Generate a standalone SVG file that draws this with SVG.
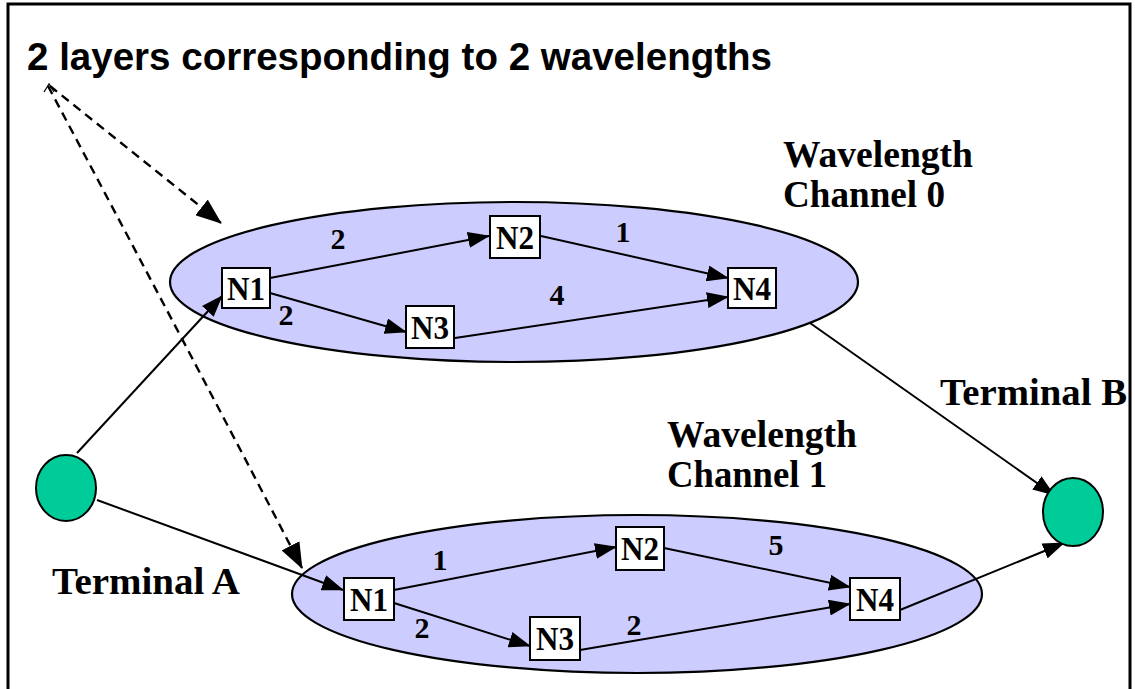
<svg xmlns="http://www.w3.org/2000/svg" width="1135" height="689" viewBox="0 0 1135 689">
<defs>
<marker id="ah" markerUnits="userSpaceOnUse" markerWidth="22" markerHeight="16" refX="21" refY="8" orient="auto">
<path d="M0,0 L22,8 L0,16 z" fill="#000"/>
</marker>
<marker id="ahd" markerUnits="userSpaceOnUse" markerWidth="26" markerHeight="20" refX="25" refY="10" orient="auto">
<path d="M0,0 L26,10 L0,20 z" fill="#000"/>
</marker>
<style>
.layer{fill:#CCCCFF;stroke:#000;stroke-width:2.2}
.term{fill:#00CC99;stroke:#000;stroke-width:2}
.box{fill:#fff;stroke:#000;stroke-width:2}
.nl{font-family:"Liberation Serif","Times New Roman",serif;font-weight:bold;font-size:33px;text-anchor:middle}
.w{font-family:"Liberation Serif","Times New Roman",serif;font-weight:bold;font-size:30px;text-anchor:middle}
.lbl{font-family:"Liberation Serif","Times New Roman",serif;font-weight:bold;font-size:38px}
.title{font-family:"Liberation Sans",Arial,sans-serif;font-weight:bold;font-size:39px}
.e{stroke:#000;stroke-width:2;fill:none;marker-end:url(#ah)}
.d{stroke:#000;stroke-width:2.4;fill:none;stroke-dasharray:9,6;marker-end:url(#ahd)}
</style>
</defs>
<rect x="0" y="0" width="1135" height="689" fill="#fff"/>
<rect x="8" y="4" width="1122" height="720" fill="none" stroke="#000" stroke-width="3"/>

<text class="title" x="27" y="70" textLength="745" lengthAdjust="spacingAndGlyphs">2 layers corresponding to 2 wavelengths</text>

<g id="layer0">
<ellipse class="layer" cx="514" cy="282" rx="344" ry="80"/>
</g>
<g id="layer1">
<ellipse class="layer" cx="637" cy="594" rx="345" ry="79"/>
</g>

<g id="label-ch0">
<text class="lbl" x="783" y="167" textLength="190" lengthAdjust="spacingAndGlyphs">Wavelength</text>
<text class="lbl" x="783" y="207" textLength="162" lengthAdjust="spacingAndGlyphs">Channel 0</text>
</g>
<g id="label-ch1">
<text class="lbl" x="667" y="447" textLength="190" lengthAdjust="spacingAndGlyphs">Wavelength</text>
<text class="lbl" x="667" y="487" textLength="160" lengthAdjust="spacingAndGlyphs">Channel 1</text>
</g>

<g id="connectors">
<line class="e" x1="77" y1="453" x2="222" y2="296"/>
<line class="e" x1="97" y1="500" x2="343" y2="590"/>
<line class="e" x1="810" y1="323" x2="1054" y2="495"/>
<line class="e" x1="900" y1="610" x2="1064" y2="543"/>
<line class="e" x1="270" y1="278" x2="489" y2="236"/>
<line class="e" x1="270" y1="293" x2="406" y2="332"/>
<line class="e" x1="541" y1="236" x2="728" y2="278"/>
<line class="e" x1="455" y1="338" x2="728" y2="297"/>
<line class="e" x1="394" y1="590" x2="616" y2="547"/>
<line class="e" x1="394" y1="603" x2="530" y2="646"/>
<line class="e" x1="664" y1="548" x2="850" y2="587"/>
<line class="e" x1="580" y1="650" x2="850" y2="604"/>
<line class="d" x1="50" y1="86" x2="221" y2="223"/>
<path class="d" d="M48,86 Q215,400 302,568"/>
<path d="M44,92 L49,84 L54,92" fill="none" stroke="#000" stroke-width="1.2"/>
</g>

<g id="termA">
<ellipse class="term" cx="66" cy="488" rx="30" ry="33"/>
<text class="lbl" x="52" y="594" textLength="188" lengthAdjust="spacingAndGlyphs">Terminal A</text>
</g>
<g id="termB">
<ellipse class="term" cx="1073" cy="512" rx="30" ry="34"/>
<text class="lbl" x="940" y="405" textLength="187" lengthAdjust="spacingAndGlyphs">Terminal B</text>
</g>

<g id="c0-n1"><rect class="box" x="222" y="268" width="48" height="40"/><text class="nl" x="246" y="300" textLength="38" lengthAdjust="spacingAndGlyphs">N1</text></g>
<g id="c0-n2"><rect class="box" x="490" y="216" width="50" height="42"/><text class="nl" x="515" y="249" textLength="38" lengthAdjust="spacingAndGlyphs">N2</text></g>
<g id="c0-n3"><rect class="box" x="406" y="306" width="48" height="42"/><text class="nl" x="430" y="339" textLength="38" lengthAdjust="spacingAndGlyphs">N3</text></g>
<g id="c0-n4"><rect class="box" x="728" y="268" width="48" height="40"/><text class="nl" x="752" y="300" textLength="38" lengthAdjust="spacingAndGlyphs">N4</text></g>

<g id="c1-n1"><rect class="box" x="344" y="578" width="50" height="42"/><text class="nl" x="369" y="611" textLength="38" lengthAdjust="spacingAndGlyphs">N1</text></g>
<g id="c1-n2"><rect class="box" x="616" y="527" width="48" height="43"/><text class="nl" x="640" y="560" textLength="38" lengthAdjust="spacingAndGlyphs">N2</text></g>
<g id="c1-n3"><rect class="box" x="530" y="617" width="50" height="43"/><text class="nl" x="555" y="650" textLength="38" lengthAdjust="spacingAndGlyphs">N3</text></g>
<g id="c1-n4"><rect class="box" x="850" y="578" width="50" height="42"/><text class="nl" x="875" y="611" textLength="38" lengthAdjust="spacingAndGlyphs">N4</text></g>

<g id="weights">
<text class="w" x="338" y="249">2</text>
<text class="w" x="286" y="325">2</text>
<text class="w" x="623" y="242">1</text>
<text class="w" x="557" y="305">4</text>
<text class="w" x="440" y="570">1</text>
<text class="w" x="422" y="638">2</text>
<text class="w" x="634" y="635">2</text>
<text class="w" x="776" y="555">5</text>
</g>
</svg>
